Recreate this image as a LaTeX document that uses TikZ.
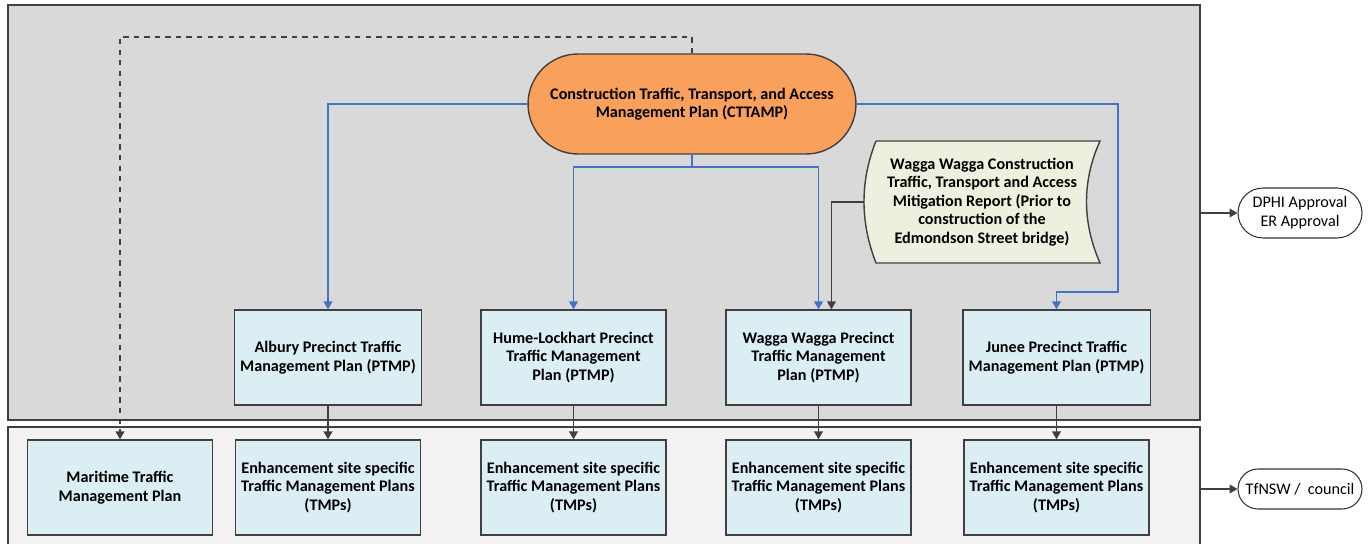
\documentclass[tikz,border=0pt]{standalone}
\usepackage{fontspec}
\setmainfont{Carlito}
\usetikzlibrary{calc, arrows.meta, positioning}

\definecolor{panelgray}{HTML}{D9D9D9}
\definecolor{panellight}{HTML}{F2F2F2}
\definecolor{planblue}{HTML}{DAEEF3}
\definecolor{cttorange}{HTML}{F8A05C}
\definecolor{reportgreen}{HTML}{EBF1DE}
\definecolor{linkblue}{HTML}{4472C4}
\definecolor{edgegray}{HTML}{404040}

\begin{document}
\begin{tikzpicture}[x=0.02cm, y=-0.02cm,
  font=\fontsize{9.2}{10.6}\selectfont,
  plan/.style={draw=edgegray, fill=planblue, line width=0.8pt, minimum width=3.7cm,
    minimum height=1.9cm, align=center, font=\fontsize{9.2}{10.6}\selectfont\bfseries},
  approval/.style={draw=black!80, fill=white, line width=0.6pt, minimum width=2.48cm,
    align=center},
  bluelink/.style={draw=linkblue, line width=0.8pt, -{Triangle[width=5pt,length=4.5pt]}},
  blacklink/.style={draw=edgegray, line width=0.8pt, -{Triangle[width=5pt,length=4.5pt]}}]
  \useasboundingbox (0,0) rectangle (1370,544);
  % Panels
  \draw[fill=panelgray, draw=edgegray, line width=1pt] (8,5) rectangle (1200,420);
  \draw[fill=panellight, draw=edgegray, line width=1pt] (8,427) rectangle (1200,560);
  % Main plan
  \node[draw=edgegray, fill=cttorange, line width=0.8pt, minimum width=6.56cm, minimum height=2cm,
    rounded corners=1cm, align=center, font=\fontsize{9.2}{10.6}\selectfont\bfseries]
    (cttamp) at (692,104) {Construction Traffic, Transport, and Access\\Management Plan (CTTAMP)};
  % Wagga Wagga report (stored data shape)
  \draw[fill=reportgreen, draw=edgegray, line width=0.8pt]
    (876,141) -- (1100,141) .. controls (1082,181) and (1082,222) .. (1100,263)
    -- (876,263) .. controls (860,222) and (860,181) .. (876,141);
  \node[align=center, font=\fontsize{9.2}{10.6}\selectfont\bfseries] (wwreport) at (982,202)
    {Wagga Wagga Construction\\Traffic, Transport and Access\\Mitigation Report (Prior to\\construction of the\\Edmondson Street bridge)};
  \coordinate (wwleft) at (864,202);
  % Precinct plans
  \node[plan] (albury) at (328,357.5) {Albury Precinct Traffic\\Management Plan (PTMP)};
  \node[plan] (hume) at (573.5,357.5) {Hume-Lockhart Precinct\\Traffic Management\\Plan (PTMP)};
  \node[plan] (wagga) at (818.5,357.5) {Wagga Wagga Precinct\\Traffic Management\\Plan (PTMP)};
  \node[plan] (junee) at (1056.5,357.5) {Junee Precinct Traffic\\Management Plan (PTMP)};
  % Site specific plans
  \node[plan] (maritime) at (120,487.5) {Maritime Traffic\\Management Plan};
  \node[plan] (tmpalbury) at (328,487.5) {Enhancement site specific\\Traffic Management Plans\\(TMPs)};
  \node[plan] (tmphume) at (573.5,487.5) {Enhancement site specific\\Traffic Management Plans\\(TMPs)};
  \node[plan] (tmpwagga) at (818.5,487.5) {Enhancement site specific\\Traffic Management Plans\\(TMPs)};
  \node[plan] (tmpjunee) at (1056.5,487.5) {Enhancement site specific\\Traffic Management Plans\\(TMPs)};
  % Approvals
  \node[approval, minimum height=1cm, rounded corners=0.5cm] (dphi) at (1300,213) {DPHI Approval\\ER Approval};
  \node[approval, minimum height=0.8cm, rounded corners=0.4cm] (tfnsw) at (1300,489) {TfNSW /\ \ council};
  \coordinate (topedge) at (1200,213);
  \coordinate (lowedge) at (1200,489);
  \draw[blacklink] (topedge) -- (dphi);
  \draw[blacklink] (lowedge) -- (tfnsw);
  % CTTAMP links
  \coordinate (dtop) at (692,37);
  \draw[blacklink, dashed] (cttamp.north) -- (dtop) -| (maritime.north);
  \draw[bluelink] (cttamp.west) -| (albury.north);
  \coordinate (split) at (692,167);
  \draw[linkblue, line width=0.8pt] (cttamp.south) -- (split);
  \draw[bluelink] (split) -| (hume.north);
  \draw[bluelink] (split) -| (wagga.north);
  \coordinate (jbend) at (1118,292);
  \draw[bluelink] (cttamp.east) -| (jbend) -| (junee.north);
  \draw[blacklink] (wwleft) -| ($(wagga.north)+(13,0)$);
  % PTMP to TMP
  \draw[blacklink] (albury) -- (tmpalbury);
  \draw[blacklink] (hume) -- (tmphume);
  \draw[blacklink] (wagga) -- (tmpwagga);
  \draw[blacklink] (junee) -- (tmpjunee);
\end{tikzpicture}
\end{document}
